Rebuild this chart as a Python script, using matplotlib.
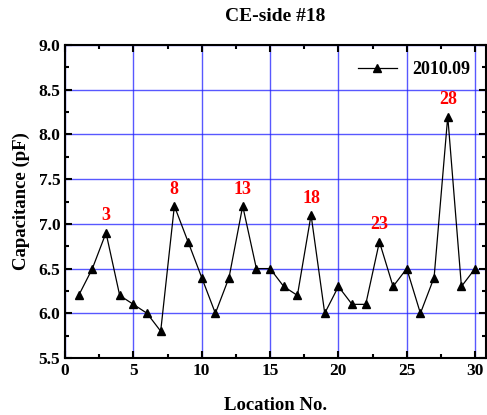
import numpy as np
import matplotlib.pyplot as plt
from matplotlib.ticker import MultipleLocator

location = list(range(1, 31))
capacitance = [6.2, 6.5, 6.9, 6.2, 6.1, 6.0, 5.8, 7.2, 6.8, 6.4,
               6.0, 6.4, 7.2, 6.5, 6.5, 6.3, 6.2, 7.1, 6.0, 6.3,
               6.1, 6.1, 6.8, 6.3, 6.5, 6.0, 6.4, 8.2, 6.3, 6.5]
peak_locs = [3, 8, 13, 18, 23, 28]

plt.rcParams['font.family'] = ['Liberation Serif', 'DejaVu Serif']
plt.rcParams['font.weight'] = 'bold'

fig = plt.figure(figsize=(4.87, 4.15), dpi=100)
ax = fig.add_axes([0.1335, 0.1373, 0.8645, 0.7543])

ax.plot(location, capacitance, color='black', linewidth=0.9, marker='^',
        markersize=6, label='2010.09', zorder=3)

for p in peak_locs:
    ax.annotate(str(p), (p, capacitance[p - 1]), xytext=(0, 6),
                textcoords='offset points', ha='center', va='bottom',
                color='red', fontsize=13, fontweight='bold')

ax.set_xlim(0, 30.8)
ax.set_ylim(5.5, 9.0)
ax.xaxis.set_major_locator(MultipleLocator(5))
ax.xaxis.set_minor_locator(MultipleLocator(2.5))
ax.yaxis.set_major_locator(MultipleLocator(0.5))
ax.yaxis.set_minor_locator(MultipleLocator(0.25))
ax.grid(True, which='major', color='#2020ff', linewidth=1.0, alpha=0.75)
ax.tick_params(which='both', direction='in', top=True, right=True,
               labelsize=12.5, width=1.5)
ax.tick_params(which='major', length=5)
ax.tick_params(which='minor', length=3)
for s in ax.spines.values():
    s.set_linewidth(1.5)

ax.set_xlabel('Location No.', fontsize=13.5, fontweight='bold', labelpad=13)
ax.set_ylabel('Capacitance (pF)', fontsize=13.5, fontweight='bold', labelpad=6)
ax.set_title('CE-side #18', fontsize=14, fontweight='bold', pad=17)

leg = ax.legend(loc='upper right', frameon=False, fontsize=13,
                handlelength=2.2, borderaxespad=0.5)

fig.savefig('out.png', dpi=100)
